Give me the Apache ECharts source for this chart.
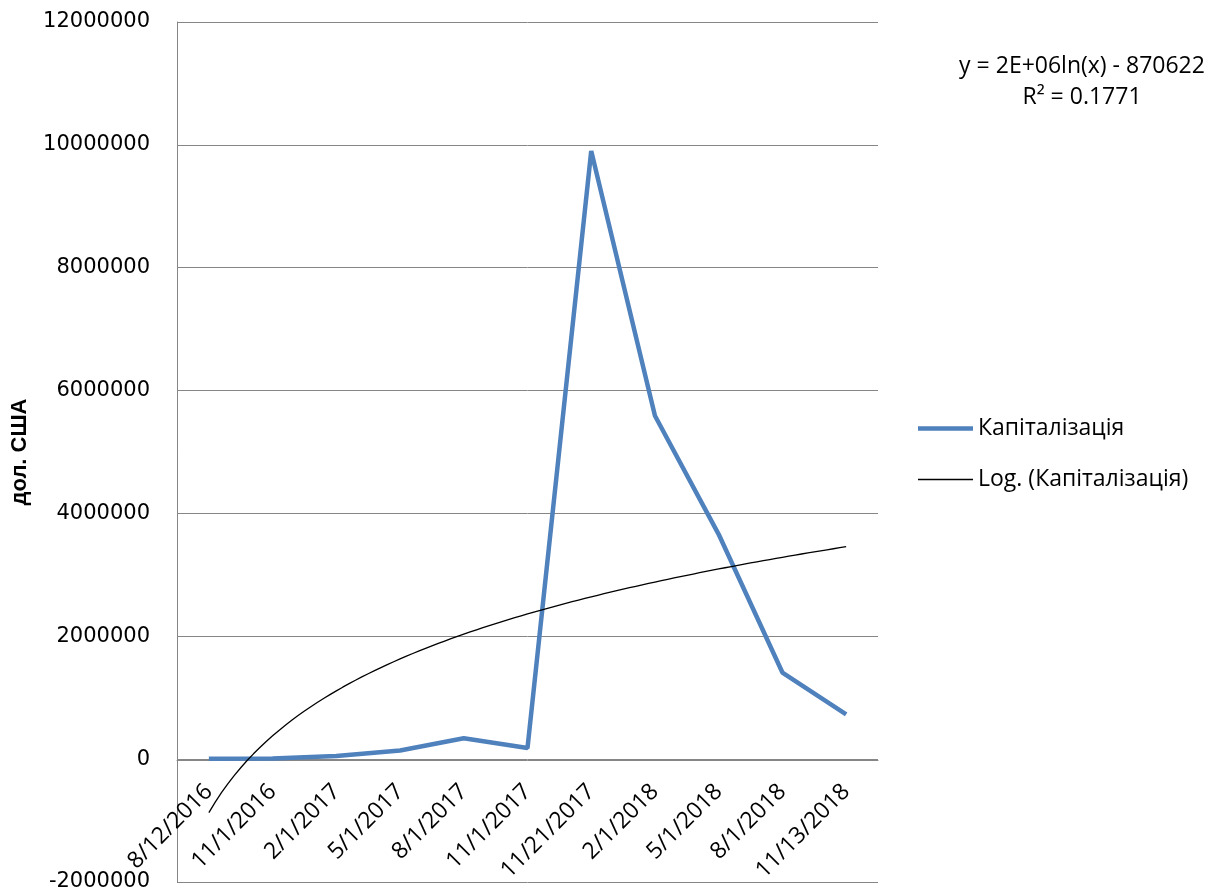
<!DOCTYPE html>
<html><head><meta charset="utf-8">
<script src="https://cdn.jsdelivr.net/npm/echarts@6/dist/echarts.min.js"></script>
<style>html,body{margin:0;padding:0;background:#fff}#c{width:1230px;height:895px}</style>
</head><body><div id="c"></div>
<script>
const categories = ['8/12/2016','11/1/2016','2/1/2017','5/1/2017','8/1/2017','11/1/2017','11/21/2017','2/1/2018','5/1/2018','8/1/2018','11/13/2018'];
const capitalization = [5000, 10000, 50000, 140000, 340000, 180000, 9900000, 5590000, 3660000, 1410000, 730000];
const seriesName = 'Капіталізація';
const trendName = 'Log. (Капіталізація)';
const equationLines = ['y = 2E+06ln(x) - 870622', 'R² = 0.1771'];

// logarithmic least-squares trendline (as Excel does), fitted to the data above
const n = capitalization.length;
const L = capitalization.map((_, i) => Math.log(i + 1));
const mL = L.reduce((a, b) => a + b, 0) / n;
const mY = capitalization.reduce((a, b) => a + b, 0) / n;
let sxy = 0, sxx = 0;
for (let i = 0; i < n; i++) { sxy += (L[i] - mL) * (capitalization[i] - mY); sxx += (L[i] - mL) ** 2; }
const A = sxy / sxx, B = mY - A * mL;
const trend = [];
for (let x = 1; x <= n + 1e-9; x += 0.1) trend.push([x, A * Math.log(x) + B]);

const chart = echarts.init(document.getElementById('c'));
const font = 'Open Sans';
const legendText = { fontFamily: font, fontSize: 23, color: '#000' };
chart.setOption({
  animation: false,
  backgroundColor: '#fff',
  grid: { left: 177, right: 352, top: 22, bottom: 13, containLabel: false, outerBoundsMode: 'none' },
  xAxis: [{
    type: 'category', data: categories, boundaryGap: true,
    offset: -122,
    axisLine: { onZero: false, lineStyle: { color: '#868686', width: 1 } },
    axisTick: { show: false },
    axisLabel: { rotate: 45, color: '#000', fontFamily: font, fontSize: 23, margin: 28, interval: 0 },
    splitLine: { show: false }
  }, {
    type: 'value', min: 0.5, max: n + 0.5, show: false, axisLine: { onZero: false }
  }],
  yAxis: {
    type: 'value', min: -2000000, max: 12000000, interval: 2000000,
    name: 'дол. США', nameLocation: 'middle', nameGap: 146, nameRotate: 90,
    nameTextStyle: { fontFamily: 'Liberation Sans Narrow, Liberation Sans', fontWeight: 'bold', fontSize: 22, color: '#000' },
    axisLine: { show: true, onZero: false, lineStyle: { color: '#868686', width: 1 } },
    axisTick: { show: false },
    axisLabel: { color: '#000', fontFamily: 'DejaVu Sans', fontSize: 21, margin: 27, formatter: v => String(v) },
    splitLine: { lineStyle: { color: '#868686', width: 1 } }
  },
  legend: [{
    orient: 'vertical', left: 918, top: 417, padding: 0, itemWidth: 55, itemHeight: 4.5, icon: 'rect',
    textStyle: legendText, data: [seriesName]
  }, {
    orient: 'vertical', left: 918, top: 468, padding: 0, itemWidth: 55, itemHeight: 1.5, icon: 'rect',
    textStyle: legendText, data: [trendName]
  }],
  series: [{
    name: seriesName, type: 'line', data: capitalization, symbol: 'none',
    lineStyle: { color: '#4F81BD', width: 4.5 }, itemStyle: { color: '#4F81BD' }, z: 3
  }, {
    name: trendName, type: 'line', xAxisIndex: 1, data: trend, symbol: 'none', smooth: false,
    lineStyle: { color: '#000', width: 1.3 }, itemStyle: { color: '#000' }, z: 4
  }],
  graphic: equationLines.map((t, i) => ({
    type: 'text', x: 1082, y: 55 + i * 31,
    style: { text: t, fill: '#000', font: '23px "Open Sans"', textAlign: 'center' }
  }))
});
</script></body></html>
